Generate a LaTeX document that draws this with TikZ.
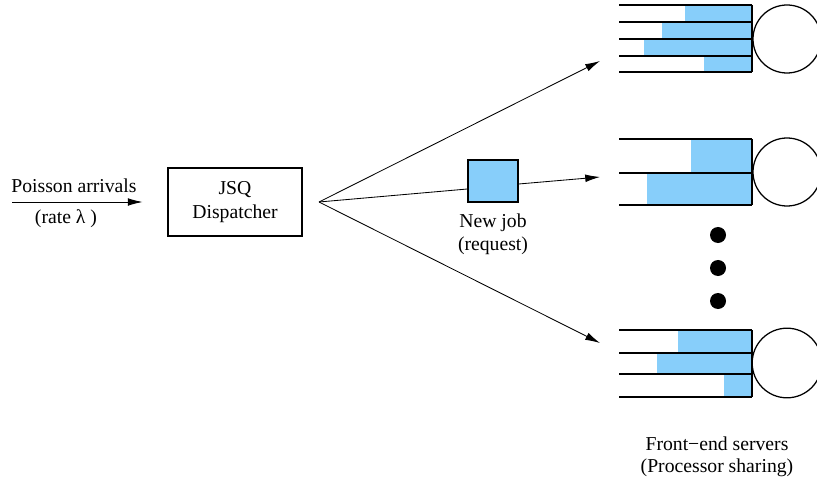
\documentclass[tikz,border=0pt]{standalone}
\usepackage{fontspec}
\setmainfont{Liberation Serif}
\usepackage{tikz}
\usetikzlibrary{arrows.meta,calc}
\definecolor{jobblue}{HTML}{87CEFA}
\tikzset{
  Lbl/.style={font=\fontsize{14}{17}\selectfont, inner sep=0pt},
  Dbox/.style={draw, line width=0.9pt, align=center, minimum width=3.35cm,
               minimum height=1.7cm, inner sep=2pt,
               font=\fontsize{14}{17}\selectfont},
  Jbox/.style={draw, line width=0.9pt, fill=jobblue, minimum width=1.25cm,
               minimum height=1.05cm, inner sep=0pt},
  Narr/.style={-{Latex[length=10.5pt,width=5.5pt]}, line width=0.6pt},
  Nlink/.style={line width=0.6pt},
  Qline/.style={line width=1.3pt},
  Qfill/.style={fill=jobblue},
  Srv/.style={line width=0.9pt},
  Vdot/.style={fill=black}
}
\begin{document}
\begin{tikzpicture}[x=0.025cm, y=-0.025cm]
  \useasboundingbox (0,0) rectangle (817,479);

  % arrivals and dispatcher
  \coordinate (src) at (12,202);
  \node[Lbl, anchor=base] (arrlbl) at (74,193) {Poisson arrivals};
  \node[Lbl, anchor=base] (ratelbl) at (66,224) {(rate λ )};
  \node[Dbox] (disp) at (235,202) {JSQ\\Dispatcher};

  % new job
  \node[Jbox] (job) at (493,181) {};
  \node[Lbl, align=center, font=\fontsize{14}{16.5}\selectfont] (joblbl) at (493,234) {New job\\(request)};

  % fan out point and server inputs
  \coordinate (fan) at (319,202);
  \coordinate (s1in) at (600,61);
  \coordinate (s2in) at (600,177);
  \coordinate (s3in) at (600,343);

  % server 1
  \fill[Qfill] (685,5) rectangle (752,22);
  \fill[Qfill] (662,22) rectangle (752,39);
  \fill[Qfill] (644,39) rectangle (752,56);
  \fill[Qfill] (704,56) rectangle (752,72);
  \draw[Qline] (619,5) -- (752,5);
  \draw[Qline] (619,22) -- (752,22);
  \draw[Qline] (619,39) -- (752,39);
  \draw[Qline] (619,56) -- (752,56);
  \draw[Qline] (619,72) -- (752,72);
  \draw[Qline] (752,5) -- (752,72);
  \draw[Srv] (787,39) circle (0.85cm);

  % server 2
  \fill[Qfill] (691,139) rectangle (752,173);
  \fill[Qfill] (647,173) rectangle (752,205);
  \draw[Qline] (619,139) -- (752,139);
  \draw[Qline] (619,173) -- (752,173);
  \draw[Qline] (619,205) -- (752,205);
  \draw[Qline] (752,139) -- (752,205);
  \draw[Srv] (787,172) circle (0.85cm);

  % dots
  \fill[Vdot] (718,235) circle (0.2cm);
  \fill[Vdot] (718,268) circle (0.2cm);
  \fill[Vdot] (718,301) circle (0.2cm);

  % server 3
  \fill[Qfill] (678,330) rectangle (752,353);
  \fill[Qfill] (657,353) rectangle (752,374);
  \fill[Qfill] (724,374) rectangle (752,397);
  \draw[Qline] (619,330) -- (752,330);
  \draw[Qline] (619,353) -- (752,353);
  \draw[Qline] (619,374) -- (752,374);
  \draw[Qline] (619,397) -- (752,397);
  \draw[Qline] (752,330) -- (752,397);
  \draw[Srv] (787,363) circle (0.87cm);

  \node[Lbl, align=center, font=\fontsize{14}{15.5}\selectfont] (srvlbl) at (717,457)
    {Front−end servers\\(Processor sharing)};

  % connectors
  \draw[Narr, shorten >=0.62cm] (src) -- (disp);
  \draw[Narr] (fan) -- (s1in);
  \draw[Nlink] (fan) -- ($(job.west)+(0,8)$);
  \draw[Narr] ($(job.east)+(0,3)$) -- (s2in);
  \draw[Narr] (fan) -- (s3in);
\end{tikzpicture}
\end{document}
